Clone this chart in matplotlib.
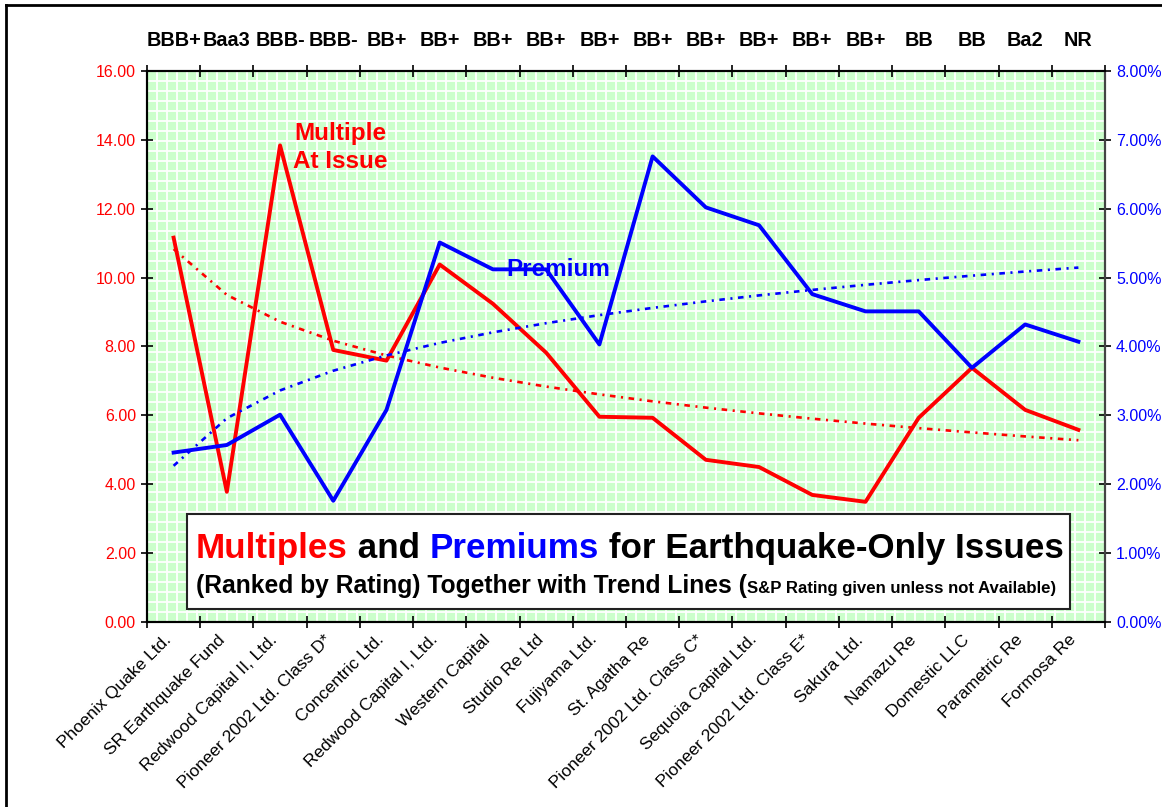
import numpy as np
import matplotlib.pyplot as plt
from matplotlib.collections import LineCollection
from matplotlib.patches import Rectangle
from matplotlib.lines import Line2D
from matplotlib.transforms import Affine2D, ScaledTranslation, blended_transform_factory

plt.rcParams['font.family'] = ['Liberation Sans', 'DejaVu Sans']
plt.rcParams['lines.scale_dashes'] = False

issuers = [
    'Phoenix Quake Ltd.', 'SR Earthquake Fund', 'Redwood Capital II, Ltd.',
    'Pioneer 2002 Ltd. Class D*', 'Concentric Ltd.', 'Redwood Capital I, Ltd.',
    'Western Capital', 'Studio Re Ltd', 'Fujiyama Ltd.', 'St. Agatha Re',
    'Pioneer 2002 Ltd. Class C*', 'Sequoia Capital Ltd.',
    'Pioneer 2002 Ltd. Class E*', 'Sakura Ltd.', 'Namazu Re', 'Domestic LLC',
    'Parametric Re', 'Formosa Re',
]
ratings = ['BBB+', 'Baa3', 'BBB-', 'BBB-', 'BB+', 'BB+', 'BB+', 'BB+', 'BB+',
           'BB+', 'BB+', 'BB+', 'BB+', 'BB+', 'BB', 'BB', 'Ba2', 'NR']
multiple = [11.16, 3.78, 13.84, 7.90, 7.59, 10.38, 9.24, 7.82, 5.96, 5.93,
            4.71, 4.50, 3.69, 3.49, 5.93, 7.38, 6.16, 5.58]
premium_pct = [2.46, 2.57, 3.01, 1.76, 3.08, 5.51, 5.12, 5.12, 4.03, 6.76,
               6.02, 5.76, 4.76, 4.51, 4.51, 3.69, 4.32, 4.07]

RED = '#FF0000'
BLUE = '#0000FF'

fig = plt.figure(figsize=(11.62, 8.07), dpi=100)
ax = fig.add_axes([147 / 1162, 1 - 622 / 807, 958 / 1162, 551 / 807])
ax2 = ax.twinx()

x = np.arange(len(issuers))

# green background with a fine white mesh
ax.set_facecolor('#CCFFCC')
segs = [[(f, 0), (f, 1)] for f in np.linspace(0, 1, 97)[1:-1]]
segs += [[(0, f), (1, f)] for f in np.linspace(0, 1, 56)[1:-1]]
ax.add_collection(LineCollection(segs, colors='white', linewidths=1.3,
                                 transform=ax.transAxes, zorder=0.5))

# logarithmic trend lines
lx = np.log(x + 1)
bm, am = np.polyfit(lx, multiple, 1)
bp, ap = np.polyfit(lx, premium_pct, 1)

ax.plot(x, am + bm * lx, color=RED, lw=1.9, dashes=(4, 4, 1.5, 4), zorder=3)
ax.plot(x, multiple, color=RED, lw=2.8, zorder=4)
ax2.plot(x, ap + bp * lx, color=BLUE, lw=1.9, dashes=(4, 4, 1.5, 4), zorder=3)
ax2.plot(x, premium_pct, color=BLUE, lw=2.8, zorder=4)

ax.set_xlim(-0.5, len(issuers) - 0.5)
ax.set_ylim(0, 16)
ax2.set_ylim(0, 8)

ax.set_yticks(np.arange(0, 17, 2))
ax.set_yticklabels([f'{v:.2f}' for v in np.arange(0, 17, 2)], color=RED, fontsize=11.5)
ax2.set_yticks(np.arange(0, 9, 1))
ax2.set_yticklabels([f'{v:.2f}%' for v in np.arange(0, 9, 1)], color=BLUE, fontsize=11.5)

ax.set_xticks(np.arange(-0.5, len(issuers), 1))
ax.set_xticklabels([])
ax.tick_params(axis='x', direction='inout', length=9, width=1.2, top=True)
ax.tick_params(axis='y', direction='inout', length=9, width=1.2)
ax2.tick_params(axis='y', direction='inout', length=9, width=1.2)

# slanted issuer names under the axis
lab_tr = blended_transform_factory(ax.transData, ax.transAxes) + \
    ScaledTranslation(-10 / 100, -10 / 100, fig.dpi_scale_trans)
for i, name in zip(x, issuers):
    ax.text(i, 0, name, transform=lab_tr, rotation=45, ha='right', va='top',
            rotation_mode='anchor', fontsize=12.5)

# ratings along the top
top = ax.secondary_xaxis('top')
top.set_xticks(x)
top.set_xticklabels(ratings, fontsize=14.3, fontweight='bold')
top.tick_params(length=0, pad=15)
top.spines['top'].set_visible(False)

for a in (ax, ax2):
    for s in a.spines.values():
        s.set_linewidth(1.5)
        s.set_color('black')
ax2.spines['right'].set_color('#444444')

ax.text(3.13, 13.78, 'Multiple\nAt Issue', color=RED, fontsize=17.5,
        fontweight='bold', ha='center', va='center', zorder=6,
        linespacing=1.3)
ax.text(7.23, 10.23, 'Premium', color=BLUE, fontsize=17.5, fontweight='bold',
        ha='center', va='center', zorder=6)

# boxed title
box = Rectangle((187 / 1162, 1 - 609 / 807), 883 / 1162, 95 / 807,
                transform=fig.transFigure, facecolor='white',
                edgecolor='#222222', lw=1.5, zorder=10)
fig.add_artist(box)


def run(pieces, x0, y0):
    """Write coloured pieces one after another on a common baseline."""
    prev = None
    for txt, col, fs in pieces:
        if prev is None:
            prev = fig.text(x0, y0, txt, color=col, fontsize=fs,
                            fontweight='bold', va='baseline', zorder=11)
        else:
            fig.canvas.draw()
            bb = prev.get_window_extent()
            py = prev.get_transform().transform(prev.get_position())[1]
            prev = fig.text(0, 0, txt, color=col, fontsize=fs,
                            fontweight='bold', va='baseline', zorder=11,
                            transform=Affine2D().translate(bb.x1, py))
    return prev


run([('Multiples', RED, 25.2), (' and ', 'black', 25.2), ('Premiums', BLUE, 25.2),
     (' for Earthquake-Only Issues', 'black', 25.2)],
    196 / 1162, 1 - 558 / 807)
run([('(Ranked by Rating) Together with Trend Lines (', 'black', 17.7),
     ('S&P Rating given unless not Available)', 'black', 12.1)],
    196 / 1162, 1 - 593 / 807)

# outer frame
fig.add_artist(Line2D([6 / 1162, 6 / 1162], [0, 1 - 5 / 807], color='black',
                      lw=2, transform=fig.transFigure))
fig.add_artist(Line2D([6 / 1162, 1], [1 - 5 / 807, 1 - 5 / 807],
                      color='black', lw=2, transform=fig.transFigure))

fig.savefig('out.png', dpi=100)
